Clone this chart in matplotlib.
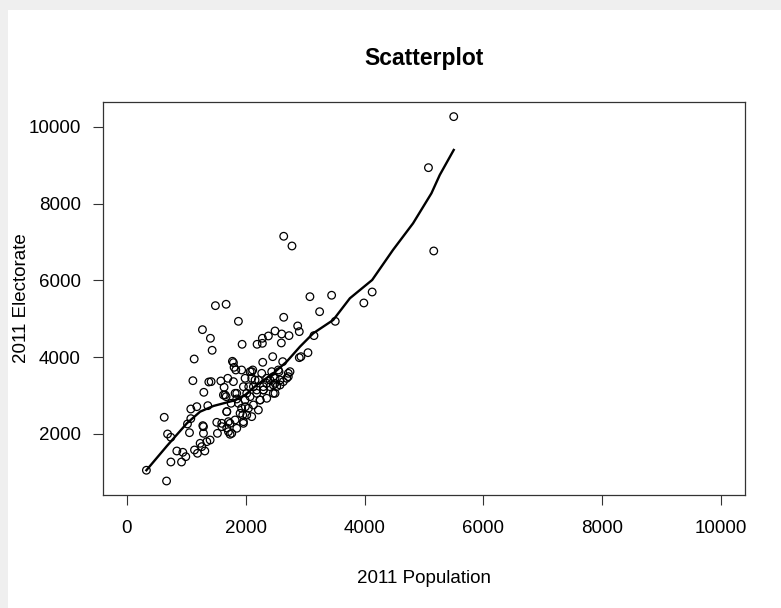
import matplotlib
matplotlib.use('Agg')
import matplotlib.pyplot as plt
from matplotlib.patches import Rectangle

# 2011 Population / Electorate per area
population = [
    330, 669, 630, 686, 741, 842, 742, 921, 943, 993, 1021, 1055, 1077, 1077,
    1178, 1139, 1189, 1234, 1279, 1290, 1313, 1346, 1402, 1363, 1514, 1525,
    1598, 1682, 1738, 1682, 1755, 1671, 1637, 1850, 1850, 1962, 1951, 1995,
    2018, 2052, 2102, 2158, 2186, 2242, 2298, 2354, 2410, 2465, 2494, 2522,
    2561, 2578, 2633, 2717, 2746, 2623, 2455, 2287, 2119, 1834, 1794, 1777,
    1699, 1582, 1419, 1380, 1112, 1134, 1296, 1436, 1407, 1273, 1491, 1671,
    1878, 1940, 2192, 2281, 2281, 2382, 2494, 2606, 2600, 2640, 2729, 2875,
    2902, 2930, 2902, 3048, 3081, 3244, 3149, 3446, 3507, 5500, 5075, 5164,
    4128, 3988, 2640, 2779,
    1262, 1290, 1710, 1654,
    1805, 1932, 2074, 2102, 2270, 2438, 2549, 2717, 1794, 1990, 2214, 2354,
    2494, 2690, 1962, 2130, 2298, 2465,
    1626, 1682, 1738, 1766, 1822, 1878, 1906, 1962, 1990, 2046, 2074, 2102,
    2130, 2186, 2214, 2242, 2298, 2354, 2410, 2465, 2494, 2578, 1932, 2018,
    1822, 1850, 1598, 1710,
]
electorate = [
    1055, 775, 2435, 2000, 1914, 1557, 1270, 1270, 1523, 1409, 2261, 2034, 2400, 2651,
    2712, 1583, 1497, 1757, 2217, 2017, 1557, 1800, 1843, 2738, 2304, 2017,
    2191, 2156, 1992, 2582, 2800, 2973, 3217, 3060, 2912, 2278, 2495, 2712,
    3060, 3233, 3624, 3407, 3147, 2886, 3147, 3320, 3407, 3494, 3060, 3233,
    3624, 3407, 3364, 3494, 3624, 3885, 4015, 3868, 3668, 3668, 3859, 3894,
    3451, 3381, 3364, 3355, 3389, 3954, 3086, 4181, 4494, 4719, 5344, 5380,
    4936, 4337, 4337, 4363, 4494, 4554, 4684, 4606, 4372, 5041, 4563, 4815,
    4667, 4015, 3989, 4119, 5578, 5187, 4563, 5615, 4936, 10270, 8940, 6769,
    5700, 5414, 7152, 6899,
    1670, 2191, 2321, 3016,
    3737, 3668, 3624, 3451, 3581, 3624, 3668, 3581, 3364, 3451, 3407, 3451,
    3451, 3451, 3233, 3233, 3233, 3277,
    3016, 2582, 2278, 2017, 3060, 2800, 2539, 2321, 2886, 2669, 2973, 2452,
    2756, 3060, 2625, 2886, 3147, 2930, 3233, 3060, 3320, 3277, 2669, 2495,
    2365, 2148, 2278, 2061,
]

# smoothed trend line
trend_x = [330, 675, 1011, 1234, 1458, 1794, 1990, 2186, 2465, 2690, 2914,
           3137, 3473, 3753, 4128, 4478, 4816, 5125, 5265, 5500]
trend_y = [1055, 1687, 2278, 2582, 2730, 2868, 3016, 3277, 3581, 3885, 4276,
           4624, 4971, 5536, 6013, 6795, 7490, 8272, 8749, 9401]

x_ticks = [0, 2000, 4000, 6000, 8000, 10000]
y_ticks = [2000, 4000, 6000, 8000, 10000]

plt.rcParams['font.family'] = ['Liberation Sans', 'DejaVu Sans']

fig = plt.figure(figsize=(7.81, 6.08), dpi=100)
fig.patch.set_facecolor('#efefef')
# white page area of the screenshot
fig.add_artist(Rectangle((8 / 781, 0), 1, 1 - 10 / 608, transform=fig.transFigure,
                         facecolor='white', edgecolor='none', zorder=-5))

ax = fig.add_axes([103 / 781, 1 - 495 / 608, 642 / 781, 393 / 608])
ax.scatter(population, electorate, s=30, facecolors='none', edgecolors='black',
           linewidths=0.9, zorder=2)
ax.plot(trend_x, trend_y, color='black', linewidth=1.7, zorder=3)

ax.set_xlim(-400, 10400)
ax.set_ylim(410, 10651)
ax.set_xticks(x_ticks)
ax.set_yticks(y_ticks)
ax.tick_params(direction='out', length=7, width=0.8, labelsize=13.5, color='#333333')
ax.tick_params(axis='x', pad=11)
ax.tick_params(axis='y', pad=9)
for s in ax.spines.values():
    s.set_linewidth(0.9)
    s.set_color('#333333')

ax.set_xlabel('2011 Population', fontsize=13.5, labelpad=24)
ax.set_ylabel('2011 Electorate', fontsize=13.5, va='center')
ax.yaxis.set_label_coords((22 - 103) / 642, 0.5)
fig.text(424 / 781, 1 - 58 / 608, 'Scatterplot', fontsize=16.5, fontweight='bold',
         ha='center', va='center')

fig.savefig('out.png', dpi=100, facecolor=fig.get_facecolor())
